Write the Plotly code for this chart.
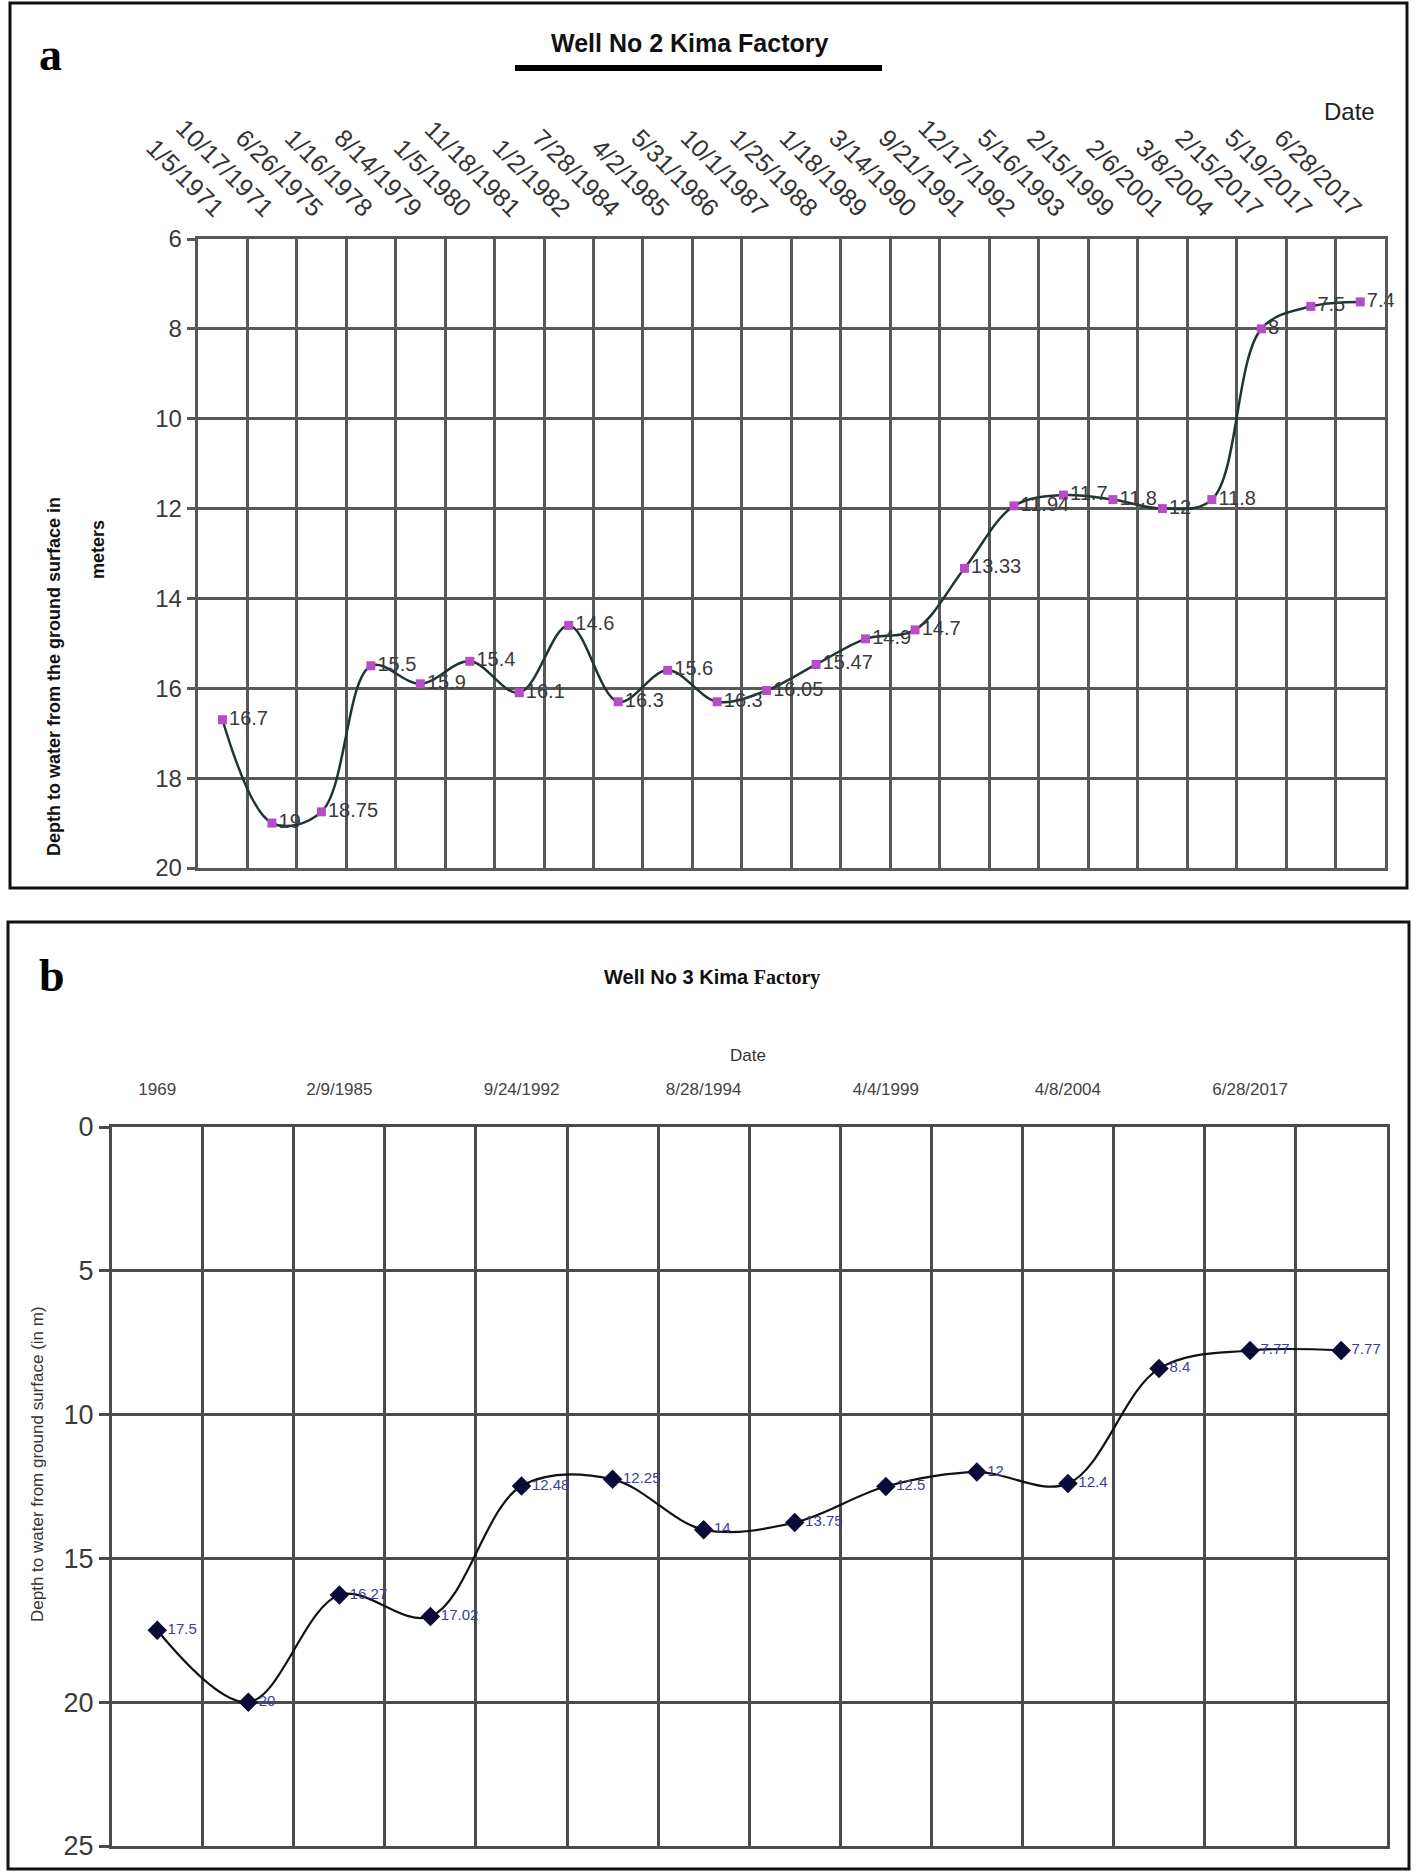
import plotly.graph_objects as go

W, H = 1418, 1875

# ---------------- data ----------------
dates_a = ["1/5/1971", "10/17/1971", "6/26/1975", "1/16/1978", "8/14/1979", "1/5/1980",
           "11/18/1981", "1/2/1982", "7/28/1984", "4/2/1985", "5/31/1986", "10/1/1987",
           "1/25/1988", "1/18/1989", "3/14/1990", "9/21/1991", "12/17/1992", "5/16/1993",
           "2/15/1999", "2/6/2001", "3/8/2004", "2/15/2017", "5/19/2017", "6/28/2017"]
depth_a = [16.7, 19, 18.75, 15.5, 15.9, 15.4, 16.1, 14.6, 16.3, 15.6, 16.3, 16.05,
           15.47, 14.9, 14.7, 13.33, 11.94, 11.7, 11.8, 12, 11.8, 8, 7.5, 7.4]

labels_b = ["1969", "2/9/1985", "9/24/1992", "8/28/1994", "4/4/1999", "4/8/2004", "6/28/2017"]
depth_b = [17.5, 20, 16.27, 17.02, 12.48, 12.25, 14, 13.75, 12.5, 12, 12.4, 8.4, 7.77, 7.77]

yticks_a = [6, 8, 10, 12, 14, 16, 18, 20]
yticks_b = [0, 5, 10, 15, 20, 25]

# ---------------- helpers ----------------
def fx(p):
    return p / W


def fy(p):
    return 1 - p / H


SANS = "Arial, Liberation Sans, sans-serif"
SERIF = "Times New Roman, Liberation Serif, serif"

idx_b = list(range(len(depth_b)))
label_pos_b = idx_b[::2]

fig = go.Figure()

fig.add_trace(go.Scatter(
    x=dates_a, y=depth_a, mode="lines+markers+text",
    text=[f"{v:g}" for v in depth_a], textposition="middle right",
    textfont=dict(family=SANS, size=20, color="#3a3a3a"),
    line=dict(color="#1f3436", width=2.5, shape="spline", smoothing=1),
    marker=dict(symbol="square", size=9, color="#b84cc6"),
    xaxis="x", yaxis="y", showlegend=False, cliponaxis=False,
))

fig.add_trace(go.Scatter(
    x=idx_b, y=depth_b, mode="lines+markers+text",
    text=[f"{v:g}" for v in depth_b], textposition="middle right",
    textfont=dict(family=SANS, size=15, color="#3c3c9c"),
    line=dict(color="#111111", width=2.2, shape="spline", smoothing=1),
    marker=dict(symbol="diamond", size=15, color="#0b0b3a"),
    xaxis="x2", yaxis="y2", showlegend=False, cliponaxis=False,
))

grid_a = "#585858"
grid_b = "#4a4a4a"

fig.update_layout(
    width=W, height=H,
    margin=dict(l=0, r=0, t=0, b=0, pad=0, autoexpand=False),
    paper_bgcolor="white", plot_bgcolor="white",
    xaxis=dict(
        type="category", side="top", anchor="y", automargin=False,
        domain=[fx(197.7), fx(1385)],
        range=[-0.5, len(dates_a) - 0.5],
        tickson="boundaries", showgrid=True, gridcolor=grid_a, gridwidth=3,
        ticks="", tickangle=45, ticklabelstandoff=4,
        tickfont=dict(family=SANS, size=25, color="#333333"),
        showline=True, mirror=True, linecolor=grid_a, linewidth=3,
        zeroline=False,
    ),
    yaxis=dict(
        anchor="x", domain=[fy(868), fy(239)], automargin=False,
        range=[20, 6], tickvals=yticks_a,
        showgrid=True, gridcolor=grid_a, gridwidth=3,
        ticks="outside", ticklen=8, tickwidth=3, tickcolor=grid_a,
        tickfont=dict(family=SANS, size=24, color="#3a3a3a"),
        showline=True, mirror=True, linecolor=grid_a, linewidth=3,
        zeroline=False,
    ),
    xaxis2=dict(
        side="top", anchor="y2", automargin=False,
        domain=[fx(111.7), fx(1386.7)],
        range=[idx_b[0] - 0.5, idx_b[-1] + 0.5],
        tickmode="array", tickvals=label_pos_b, ticktext=labels_b,
        showgrid=False, ticks="", ticklabelstandoff=22,
        tickfont=dict(family=SANS, size=17, color="#444444"),
        minor=dict(tickmode="linear", tick0=-0.5, dtick=1, showgrid=True,
                   gridcolor=grid_b, gridwidth=2.5, ticks=""),
        showline=True, mirror=True, linecolor=grid_b, linewidth=2.5,
        zeroline=False,
    ),
    yaxis2=dict(
        anchor="x2", domain=[fy(1846), fy(1127)], automargin=False,
        range=[25, 0], tickvals=yticks_b,
        showgrid=True, gridcolor=grid_b, gridwidth=2.5,
        ticks="outside", ticklen=10, tickwidth=2.5, tickcolor=grid_b,
        tickfont=dict(family=SANS, size=27, color="#3a3a3a"),
        showline=True, mirror=True, linecolor=grid_b, linewidth=2.5,
        zeroline=False,
    ),
)

annotations = [
    # panel a
    dict(text="<b>a</b>", x=fx(50), y=fy(54), font=dict(family=SERIF, size=46, color="black")),
    dict(text="<b>Well No 2 Kima Factory</b>", x=fx(689), y=fy(43),
         font=dict(family=SANS, size=25, color="#111111")),
    dict(text="Date", x=fx(1349), y=fy(111), font=dict(family=SANS, size=24, color="#222222")),
    dict(text="<b>Depth to water from the ground surface in</b>", x=fx(54), y=fy(677),
         textangle=-90, font=dict(family=SANS, size=18, color="#111111")),
    dict(text="<b>meters</b>", x=fx(98), y=fy(550), textangle=-90,
         font=dict(family=SANS, size=18, color="#111111")),
    # panel b
    dict(text="<b>b</b>", x=fx(52), y=fy(975), font=dict(family=SERIF, size=46, color="black")),
    dict(text="<b>Well No 3 Kima </b><b><span style='font-family:Times New Roman, Liberation Serif, serif'>Factory</span></b>",
         x=fx(712), y=fy(977), font=dict(family=SANS, size=20, color="#111111")),
    dict(text="Date", x=fx(748), y=fy(1055), font=dict(family=SANS, size=17, color="#333333")),
    dict(text="Depth to water from ground surface (in m)", x=fx(37), y=fy(1464), textangle=-90,
         font=dict(family=SANS, size=17, color="#333333")),
]
for a in annotations:
    a.update(xref="paper", yref="paper", showarrow=False, xanchor="center", yanchor="middle")
fig.update_layout(annotations=annotations)

shapes = [
    # outer frames
    dict(type="rect", x0=fx(10), x1=fx(1407), y0=fy(888), y1=fy(3),
         line=dict(color="#111111", width=3)),
    dict(type="rect", x0=fx(8), x1=fx(1409), y0=fy(1869), y1=fy(922),
         line=dict(color="#111111", width=3)),
    # title underline
    dict(type="line", x0=fx(515), x1=fx(882), y0=fy(68), y1=fy(68),
         line=dict(color="black", width=6)),
]
for s in shapes:
    s.update(xref="paper", yref="paper", layer="above")
fig.update_layout(shapes=shapes)

fig.write_html(
    "out.html",
    config={"displayModeBar": False},
    post_script="document.body.style.margin='0';document.body.style.overflow='hidden';",
)
